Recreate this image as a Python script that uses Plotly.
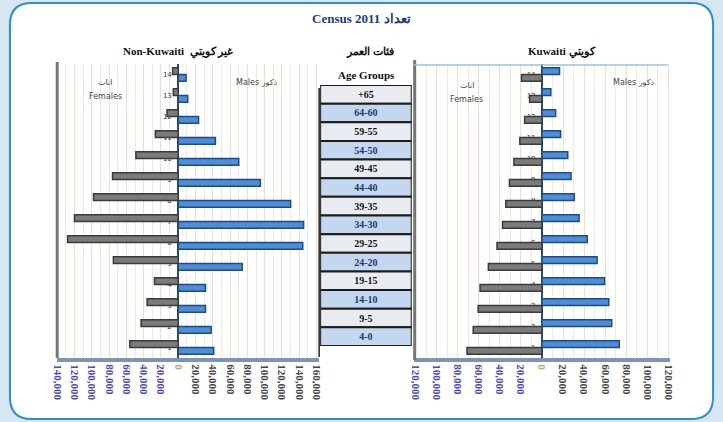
import plotly.graph_objects as go

# ---------------- data ----------------
age_groups = ["+65", "64-60", "59-55", "54-50", "49-45", "44-40", "39-35",
              "34-30", "29-25", "24-20", "19-15", "14-10", "9-5", "4-0"]
group_index = list(range(len(age_groups), 0, -1))  # 14 (top) ... 1 (bottom)

nonkuwaiti_males = [9000, 11000, 23500, 43000, 70000, 95000, 130000,
                    145000, 144000, 74000, 31500, 31500, 38000, 41000]
nonkuwaiti_females = [6500, 5700, 13000, 26500, 49000, 76000, 98000,
                      120000, 128000, 75000, 27500, 36000, 43000, 56000]
kuwaiti_males = [16700, 8400, 13000, 17700, 24500, 27600, 30700,
                 35300, 43000, 52400, 59500, 63500, 66300, 73500]
kuwaiti_females = [19500, 11800, 16500, 21100, 26700, 31000, 34400,
                   37500, 42800, 51000, 58900, 60700, 65400, 71300]

left_ticks = list(range(-140000, 160001, 20000))
right_ticks = list(range(-120000, 120001, 20000))

W, H = 723, 422
SERIF = "Liberation Serif"
MALE_FILL, MALE_LINE = "#4d8ed8", "#1f4a85"
FEM_FILL, FEM_LINE = "#7b7b7b", "#3a3a3a"


def px_x(p):
    return p / W


def px_y(p):
    return 1 - p / H


def tick_text(vals):
    out = []
    for v in vals:
        if v < 0:
            c = "#4a48c0"
        elif v == 0:
            c = "#b7a86a"
        else:
            c = "#454545"
        out.append('<b><span style="color:%s">%s</span></b>' % (c, f"{abs(v):,}"))
    return out


left_dom = [px_x(52), px_x(318)]
right_dom = [px_x(414), px_x(674)]
y_dom = [px_y(358), px_y(64)]
left_range = [-140000, 163000]
right_range = [-122000, 121500]


def zero_pos(dom, rng):
    return dom[0] + (0 - rng[0]) / (rng[1] - rng[0]) * (dom[1] - dom[0])


fig = go.Figure()

# Left chart (Non-Kuwaiti): males first -> lower, females above
fig.add_trace(go.Bar(y=group_index, x=nonkuwaiti_males, orientation="h",
                     marker=dict(color=MALE_FILL, line=dict(color=MALE_LINE, width=1.5)),
                     xaxis="x", yaxis="y", showlegend=False))
fig.add_trace(go.Bar(y=group_index, x=[-v for v in nonkuwaiti_females], orientation="h",
                     marker=dict(color=FEM_FILL, line=dict(color=FEM_LINE, width=1.5)),
                     xaxis="x", yaxis="y", showlegend=False))
# Right chart (Kuwaiti): females first -> lower, males above
fig.add_trace(go.Bar(y=group_index, x=[-v for v in kuwaiti_females], orientation="h",
                     marker=dict(color=FEM_FILL, line=dict(color=FEM_LINE, width=1.5)),
                     xaxis="x2", yaxis="y2", showlegend=False))
fig.add_trace(go.Bar(y=group_index, x=kuwaiti_males, orientation="h",
                     marker=dict(color=MALE_FILL, line=dict(color=MALE_LINE, width=1.5)),
                     xaxis="x2", yaxis="y2", showlegend=False))

# Centre table of age groups, drawn as full-width cells
row_fills = ["#e8ecf1" if i % 2 == 0 else "#c3d8ef" for i in range(len(age_groups))]
row_fonts = ["#111111" if i % 2 == 0 else "#1f3a78" for i in range(len(age_groups))]
fig.add_trace(go.Bar(
    y=group_index, x=[1] * len(age_groups), orientation="h", width=1,
    marker=dict(color=row_fills, line=dict(color="#1c1c1c", width=2)),
    text=["<b>%s</b>" % a for a in age_groups], textposition="inside",
    insidetextanchor="middle", constraintext="none",
    textfont=dict(family=SERIF, size=10, color=row_fonts),
    xaxis="x3", yaxis="y3", showlegend=False, hoverinfo="skip",
))

axis_common = dict(
    showgrid=True, gridcolor="#f2ddc9", gridwidth=1,
    minor=dict(dtick=10000, showgrid=True, gridcolor="#f4e6d8", gridwidth=1),
    zeroline=True, zerolinecolor="#2b4a78", zerolinewidth=1.5,
    showline=True, linecolor="#7b95b8", linewidth=4, mirror=False,
    tickangle=90, ticks="", tickfont=dict(family=SERIF, size=11),
    fixedrange=True,
)
yaxis_common = dict(
    range=[0.5, 14.5], domain=y_dom, showgrid=False, zeroline=False,
    tickmode="array", tickvals=group_index, ticktext=[str(i) for i in group_index],
    ticks="outside", ticklen=5, tickcolor="#555555",
    tickfont=dict(family="DejaVu Sans", size=7, color="#333333"),
    anchor="free", layer="below traces", showline=False,
)

fig.update_layout(
    width=W, height=H,
    margin=dict(l=0, r=0, t=0, b=0),
    paper_bgcolor="#d7e6f3",
    plot_bgcolor="#e6e9ee",
    barmode="group", bargap=0.36, bargroupgap=0.0,
    xaxis=dict(domain=left_dom, range=left_range, anchor="y",
               tickmode="array", tickvals=left_ticks, ticktext=tick_text(left_ticks),
               **axis_common),
    yaxis=dict(position=zero_pos(left_dom, left_range), **yaxis_common),
    xaxis2=dict(domain=right_dom, range=right_range, anchor="y2",
                tickmode="array", tickvals=right_ticks, ticktext=tick_text(right_ticks),
                **axis_common),
    yaxis2=dict(position=zero_pos(right_dom, right_range), **yaxis_common),
    xaxis3=dict(domain=[px_x(319), px_x(412)], range=[0, 1], anchor="y3",
                visible=False, fixedrange=True),
    yaxis3=dict(domain=[px_y(346), px_y(85)], range=[0.5, 14.5], anchor="x3",
                visible=False, fixedrange=True),
    uniformtext=dict(minsize=10, mode="show"),
)

# Rounded white frame
x0, x1, y0, y1, r = 4, 718, 3, 419, 22
path = (f"M {x0+r},{y0} L {x1-r},{y0} Q {x1},{y0} {x1},{y0+r} "
        f"L {x1},{y1-r} Q {x1},{y1} {x1-r},{y1} L {x0+r},{y1} "
        f"Q {x0},{y1} {x0},{y1-r} L {x0},{y0+r} Q {x0},{y0} {x0+r},{y0} Z")


def conv_path(p):
    out = []
    for t in p.split():
        if "," in t:
            a, b = t.split(",")
            out.append(f"{px_x(float(a)):.5f},{px_y(float(b)):.5f}")
        else:
            out.append(t)
    return " ".join(out)


shapes = [
    dict(type="path", path=conv_path(path), xref="paper", yref="paper",
         fillcolor="white", line=dict(color="#2a8ed0", width=2), layer="below"),
    dict(type="line", xref="paper", yref="paper", x0=px_x(52), x1=px_x(52),
         y0=px_y(62), y1=px_y(358), line=dict(color="#767676", width=3)),
    dict(type="line", xref="paper", yref="paper", x0=px_x(318), x1=px_x(318),
         y0=px_y(88), y1=px_y(357), line=dict(color="#222222", width=1.5)),
    dict(type="line", xref="paper", yref="paper", x0=px_x(415), x1=px_x(415),
         y0=px_y(60), y1=px_y(360), line=dict(color="#767676", width=3)),
    dict(type="line", xref="paper", yref="paper", x0=px_x(414), x1=px_x(672),
         y0=px_y(65), y1=px_y(65), line=dict(color="#9cc0e4", width=1.5)),
]

annotations = [
    dict(text="<b>Census 2011 تعداد</b>", x=px_x(361), y=px_y(18),
         font=dict(family=SERIF, size=13, color="#1f3a7a")),
    dict(text="<b>Non-Kuwaiti  غير كويتي</b>", x=px_x(175), y=px_y(52),
         font=dict(family=SERIF, size=11, color="#111111")),
    dict(text="<b>فئات العمر</b>", x=px_x(370), y=px_y(52),
         font=dict(family=SERIF, size=11, color="#111111")),
    dict(text="<b>Age Groups</b>", x=px_x(366), y=px_y(75),
         font=dict(family=SERIF, size=11, color="#111111")),
    dict(text="<b>Kuwaiti كويتي</b>", x=px_x(565), y=px_y(52),
         font=dict(family=SERIF, size=11, color="#111111")),
    dict(text="اناث", x=px_x(101), y=px_y(82), font=dict(family="DejaVu Sans", size=8, color="#444444")),
    dict(text="Females", x=px_x(101), y=px_y(96), font=dict(family="DejaVu Sans", size=8, color="#444444")),
    dict(text="Males ذكور", x=px_x(254), y=px_y(83), font=dict(family="DejaVu Sans", size=8, color="#444444")),
    dict(text="اناث", x=px_x(468), y=px_y(85), font=dict(family="DejaVu Sans", size=8, color="#444444")),
    dict(text="Females", x=px_x(468), y=px_y(99), font=dict(family="DejaVu Sans", size=8, color="#444444")),
    dict(text="Males ذكور", x=px_x(637), y=px_y(83), font=dict(family="DejaVu Sans", size=8, color="#444444")),
]
for a in annotations:
    a.update(xref="paper", yref="paper", showarrow=False, xanchor="center", yanchor="middle")

fig.update_layout(shapes=shapes, annotations=annotations)

fig.write_html("out.html", config={"displayModeBar": False},
               post_script="document.body.style.margin='0';document.body.style.overflow='hidden';")
